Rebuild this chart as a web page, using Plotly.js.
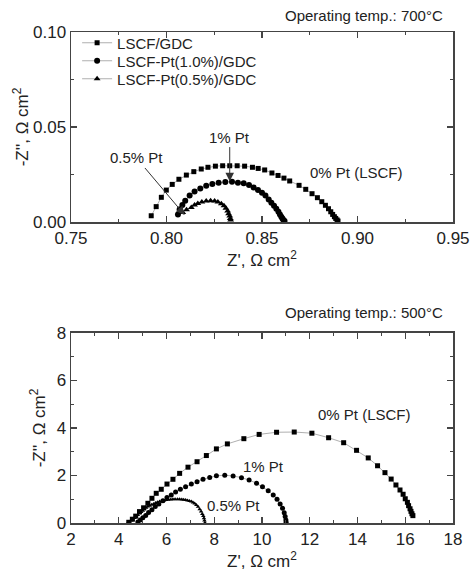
<!DOCTYPE html>
<html>
<head>
<meta charset="utf-8">
<script src="https://cdn.plot.ly/plotly-3.0.1.min.js"></script>
<style>html,body{margin:0;padding:0;background:#fff;}#chart{width:476px;height:573px;}</style>
</head>
<body>
<div id="chart"></div>
<script>
// ---- 700 °C panel ----
const seriesNames = ["LSCF/GDC", "LSCF-Pt(1.0%)/GDC", "LSCF-Pt(0.5%)/GDC"];

const sq700_x = [0.7920, 0.7946, 0.7973, 0.7999, 0.8030, 0.8065, 0.8104, 0.8143, 0.8182, 0.8217, 0.8256, 0.8294, 0.8331, 0.8370, 0.8409, 0.8450, 0.8480, 0.8514, 0.8552, 0.8584, 0.8615, 0.8645, 0.8694, 0.8729, 0.8762, 0.8790, 0.8813, 0.8832, 0.8848, 0.8860, 0.8870, 0.8879, 0.8886, 0.8893, 0.8898];
const sq700_y = [0.0033, 0.0081, 0.0130, 0.0168, 0.0198, 0.0225, 0.0247, 0.0265, 0.0279, 0.0288, 0.0294, 0.0296, 0.0296, 0.0296, 0.0294, 0.0288, 0.0282, 0.0274, 0.0258, 0.0245, 0.0231, 0.0216, 0.0193, 0.0172, 0.0149, 0.0128, 0.0107, 0.0088, 0.0070, 0.0054, 0.0040, 0.0028, 0.0019, 0.0011, 0.0005];

const ci700_x = [0.8060, 0.8069, 0.8083, 0.8098, 0.8121, 0.8147, 0.8177, 0.8208, 0.8240, 0.8273, 0.8308, 0.8343, 0.8374, 0.8404, 0.8432, 0.8456, 0.8479, 0.8500, 0.8518, 0.8535, 0.8549, 0.8563, 0.8575, 0.8586, 0.8594, 0.8601, 0.8607, 0.8612, 0.8618];
const ci700_y = [0.0040, 0.0067, 0.0089, 0.0112, 0.0139, 0.0160, 0.0177, 0.0191, 0.0200, 0.0207, 0.0211, 0.0212, 0.0207, 0.0204, 0.0195, 0.0182, 0.0168, 0.0154, 0.0139, 0.0119, 0.0102, 0.0086, 0.0070, 0.0054, 0.0040, 0.0028, 0.0019, 0.0011, 0.0005];

const tr700_x = [0.8085, 0.8105, 0.8130, 0.8147, 0.8164, 0.8185, 0.8208, 0.8231, 0.8252, 0.8269, 0.8287, 0.8301, 0.8311, 0.8320, 0.8325, 0.8331, 0.8334, 0.8336];
const tr700_y = [0.0050, 0.0065, 0.0077, 0.0089, 0.0098, 0.0105, 0.0111, 0.0112, 0.0111, 0.0105, 0.0096, 0.0086, 0.0072, 0.0058, 0.0044, 0.0032, 0.0019, 0.0011];

// ---- 500 °C panel ----
const sq500_x = [4.42, 4.57, 4.71, 4.87, 5.04, 5.22, 5.39, 5.57, 5.78, 6.02, 6.27, 6.55, 6.90, 7.28, 7.67, 8.09, 8.55, 9.24, 9.88, 10.61, 11.35, 12.09, 12.79, 13.42, 13.96, 14.45, 14.84, 15.15, 15.41, 15.61, 15.78, 15.91, 16.00, 16.09, 16.14, 16.20, 16.24, 16.28, 16.32];
const sq500_y = [0.03, 0.16, 0.29, 0.48, 0.64, 0.83, 1.04, 1.25, 1.42, 1.64, 1.84, 2.09, 2.35, 2.58, 2.84, 3.12, 3.33, 3.55, 3.73, 3.82, 3.83, 3.78, 3.59, 3.38, 3.06, 2.74, 2.41, 2.12, 1.85, 1.60, 1.39, 1.21, 1.02, 0.87, 0.73, 0.60, 0.49, 0.39, 0.31];

const ci500_x = [4.80, 4.90, 5.01, 5.13, 5.25, 5.39, 5.53, 5.68, 5.85, 6.02, 6.20, 6.38, 6.58, 6.80, 7.04, 7.28, 7.53, 7.81, 8.09, 8.44, 8.79, 9.14, 9.46, 9.77, 10.02, 10.26, 10.47, 10.63, 10.76, 10.86, 10.93, 10.97, 11.00, 11.01];
const ci500_y = [0.04, 0.13, 0.22, 0.32, 0.44, 0.56, 0.69, 0.80, 0.94, 1.07, 1.18, 1.31, 1.42, 1.53, 1.64, 1.74, 1.84, 1.92, 1.99, 2.01, 1.98, 1.91, 1.81, 1.67, 1.53, 1.36, 1.18, 1.00, 0.80, 0.62, 0.43, 0.27, 0.13, 0.03];

const tr500_x = [4.38, 4.45, 4.52, 4.59, 4.66, 4.73, 4.80, 4.87, 4.94, 5.01, 5.08, 5.15, 5.22, 5.30, 5.38, 5.46, 5.54, 5.62, 5.71, 5.80, 5.90, 5.99, 6.08, 6.18, 6.27, 6.36, 6.46, 6.55, 6.64, 6.72, 6.80, 6.88, 6.96, 7.04, 7.11, 7.18, 7.25, 7.32, 7.39, 7.45, 7.50, 7.54, 7.57, 7.59, 7.61];
const tr500_y = [0.00, 0.05, 0.10, 0.15, 0.21, 0.27, 0.34, 0.40, 0.46, 0.52, 0.58, 0.64, 0.69, 0.73, 0.77, 0.80, 0.84, 0.87, 0.90, 0.92, 0.95, 0.97, 0.98, 0.99, 1.00, 1.00, 1.00, 1.00, 0.99, 0.98, 0.97, 0.95, 0.93, 0.90, 0.86, 0.82, 0.76, 0.68, 0.58, 0.48, 0.38, 0.29, 0.20, 0.10, 0.01];

const panelTitles = ["Operating temp.: 700°C", "Operating temp.: 500°C"];
const topLabels = ["1% Pt", "0.5% Pt", "0% Pt (LSCF)"];
const bottomLabels = ["0% Pt (LSCF)", "1% Pt", "0.5% Pt"];

const lineStyle = {color: '#9a9a9a', width: 0.8};
function tr(x, y, name, symbol, size, xa, ya, leg) {
  const t = {x: x, y: y, name: name, type: 'scatter', mode: 'lines+markers',
    line: lineStyle, marker: {symbol: symbol, size: size, color: '#000'},
    xaxis: xa, yaxis: ya, showlegend: !!leg, cliponaxis: false};
  if (leg) t.legend = leg;
  return t;
}

const data = [
  tr(sq700_x, sq700_y, seriesNames[0], 'square', 5, 'x', 'y', 'legend'),
  tr(ci700_x, ci700_y, seriesNames[1], 'circle', 6, 'x', 'y', 'legend2'),
  tr(tr700_x, tr700_y, seriesNames[2], 'triangle-up', 6, 'x', 'y', 'legend3'),
  tr(sq500_x, sq500_y, seriesNames[0], 'square', 5, 'x2', 'y2', null),
  tr(ci500_x, ci500_y, seriesNames[1], 'circle', 5, 'x2', 'y2', null),
  tr(tr500_x, tr500_y, seriesNames[2], 'triangle-up', 4, 'x2', 'y2', null)
];

const FONT = 'Liberation Sans, Arial, Helvetica, sans-serif';
function axis(extra) {
  return Object.assign({
    ticks: 'inside', ticklen: 6, tickwidth: 1.2, tickcolor: '#444',
    showline: true, mirror: 'allticks', linecolor: '#444', linewidth: 1.5,
    showgrid: false, zeroline: false,
    tickfont: {size: 17, color: '#222', family: FONT}
  }, extra);
}
const titleFont = {size: 17, color: '#222', family: FONT};
// legend rows: pixel centres 43, 61, 79 -> paper coords (plot area top = 32px, height 491px)
function leg(ypx) {
  return {x: 0.016, y: (523 - ypx) / 491, xanchor: 'left', yanchor: 'middle',
          bgcolor: 'rgba(0,0,0,0)', font: {size: 15, color: '#222', family: FONT}};
}

const layout = {
  width: 476, height: 573,
  margin: {l: 71, r: 23, t: 32, b: 50},
  paper_bgcolor: '#fff', plot_bgcolor: '#fff',
  font: {family: FONT, color: '#222', size: 16},
  showlegend: true,
  legend: leg(43), legend2: leg(61), legend3: leg(79),
  xaxis: axis({domain: [0, 1], anchor: 'y', range: [0.75, 0.95], tick0: 0.75, dtick: 0.05, tickformat: '.2f',
    minor: {dtick: 0.025, ticks: 'inside', ticklen: 3, tickcolor: '#444'},
    title: {text: "Z', Ω cm<sup>2</sup>", font: titleFont, standoff: 2}}),
  yaxis: axis({domain: [0.613, 1], anchor: 'x', range: [0, 0.10], tick0: 0, dtick: 0.05, tickformat: '.2f',
    minor: {dtick: 0.025, ticks: 'inside', ticklen: 3, tickcolor: '#444'},
    title: {text: "-Z'', Ω cm<sup>2</sup>", font: titleFont, standoff: 0}}),
  xaxis2: axis({domain: [0, 1], anchor: 'y2', range: [2, 18], tick0: 2, dtick: 2,
    minor: {dtick: 1, ticks: 'inside', ticklen: 3, tickcolor: '#444'},
    title: {text: "Z', Ω cm<sup>2</sup>", font: titleFont, standoff: 2}}),
  yaxis2: axis({domain: [0, 0.387], anchor: 'x2', range: [0, 8], tick0: 0, dtick: 2,
    minor: {dtick: 1, ticks: 'inside', ticklen: 3, tickcolor: '#444'},
    title: {text: "-Z'', Ω cm<sup>2</sup>", font: titleFont, standoff: 6}}),
  annotations: [
    {xref: 'paper', yref: 'paper', x: 0.979, y: 1.0346, xanchor: 'right', yanchor: 'middle',
     text: panelTitles[0], showarrow: false, font: {size: 15, color: '#222'}},
    {xref: 'paper', yref: 'paper', x: 0.979, y: 0.4277, xanchor: 'right', yanchor: 'middle',
     text: panelTitles[1], showarrow: false, font: {size: 15, color: '#222'}},
    {xref: 'x', yref: 'y', x: 0.8331, y: 0.0214, axref: 'x', ayref: 'y', ax: 0.8331, ay: 0.0447,
     text: topLabels[0], showarrow: true, arrowhead: 2, arrowsize: 1.7, arrowwidth: 1, arrowcolor: '#333',
     font: {size: 15, color: '#222'}},
    {xref: 'x', yref: 'y', x: 0.8095, y: 0.0037, axref: 'x', ayref: 'y', ax: 0.7843, ay: 0.0337,
     text: topLabels[1], showarrow: true, arrowhead: 2, arrowsize: 1.7, arrowwidth: 1, arrowcolor: '#333',
     font: {size: 15, color: '#222'}},
    {xref: 'x', yref: 'y', x: 0.8996, y: 0.0258, text: topLabels[2], showarrow: false,
     font: {size: 15, color: '#222'}},
    {xref: 'x2', yref: 'y2', x: 14.31, y: 4.55, text: bottomLabels[0], showarrow: false, font: {size: 15, color: '#222'}},
    {xref: 'x2', yref: 'y2', x: 10.05, y: 2.37, text: bottomLabels[1], showarrow: false, font: {size: 15, color: '#222'}},
    {xref: 'x2', yref: 'y2', x: 8.79, y: 0.72, text: bottomLabels[2], showarrow: false, font: {size: 15, color: '#222'}}
  ]
};

Plotly.newPlot('chart', data, layout, {displayModeBar: false, staticPlot: true});
</script>
</body>
</html>
